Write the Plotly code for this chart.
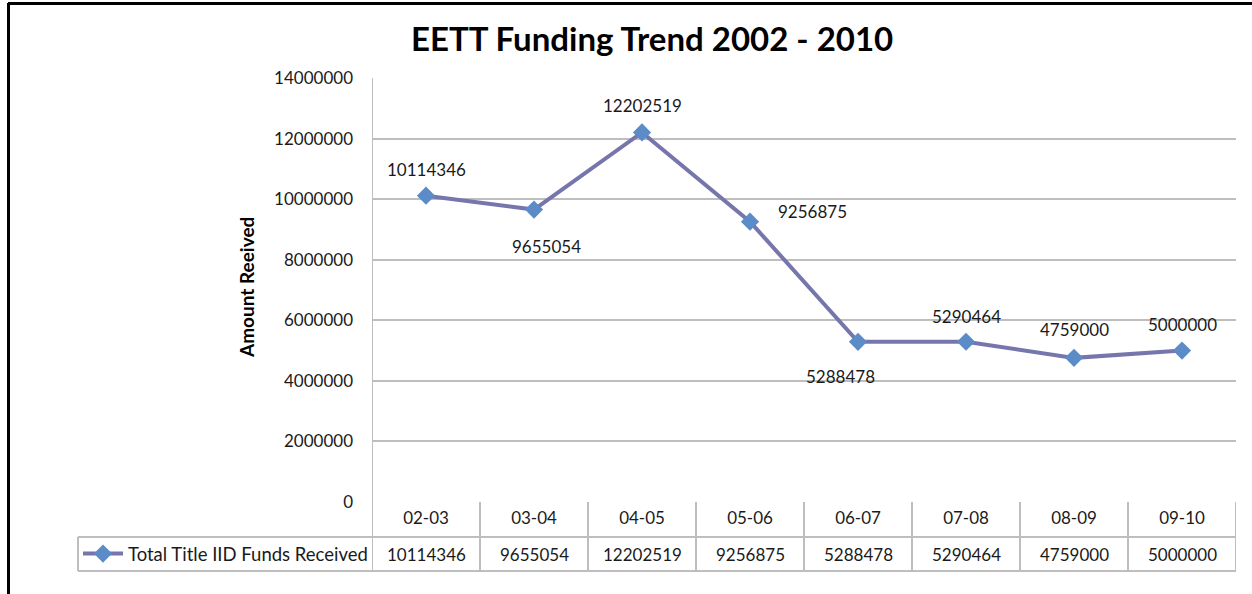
import plotly.graph_objects as go

categories = ["02-03", "03-04", "04-05", "05-06", "06-07", "07-08", "08-09", "09-10"]
funds = [10114346, 9655054, 12202519, 9256875, 5288478, 5290464, 4759000, 5000000]
series_name = "Total Title IID Funds Received"
title_text = "EETT Funding Trend 2002 - 2010"
y_title = "Amount Reeived"
y_ticks = [0, 2000000, 4000000, 6000000, 8000000, 10000000, 12000000, 14000000]

# label offsets (px) for data labels
label_offsets = [(0, 26), (12, -37), (0, 27), (62, 10), (-18, -35), (0, 25), (0, 28), (0, 26)]

W, H = 1252, 594
ML, MR, MT, MB = 372, 16, 78, 92
pw = W - ML - MR
ph = H - MT - MB

def px_x(x):
    return (x - ML) / pw

def px_y(y):
    return (H - MB - y) / ph

FONT = "Lato"
TXT = "#1a1a1a"
GRID = "#BEBEBE"

fig = go.Figure()
fig.add_trace(go.Scatter(
    x=categories, y=funds, mode="lines+markers", name=series_name,
    line=dict(color="#7676AC", width=4),
    marker=dict(symbol="diamond", size=14, color="#5B8CC8",
                line=dict(color="#5B8CC8", width=0)),
    showlegend=True,
))

annotations = []
for c, v, (dx, dy) in zip(categories, funds, label_offsets):
    annotations.append(dict(x=c, y=v, xref="x", yref="y", text=str(v), showarrow=False,
                            xshift=dx, yshift=dy, font=dict(family=FONT, size=17, color=TXT)))

row_mid = px_y(554)
for c, v in zip(categories, funds):
    annotations.append(dict(x=c, y=row_mid, xref="x", yref="paper", text=str(v), showarrow=False,
                            yanchor="middle", font=dict(family=FONT, size=17, color=TXT)))

annotations.append(dict(x=px_x(652), y=px_y(38), xref="paper", yref="paper", text="<b>" + title_text + "</b>",
                        showarrow=False, xanchor="center", yanchor="middle",
                        font=dict(family=FONT, size=33, color="#000000")))
annotations.append(dict(x=px_x(246), y=px_y(288), xref="paper", yref="paper", text="<b>" + y_title + "</b>",
                        showarrow=False, textangle=-90, xanchor="center", yanchor="middle",
                        font=dict(family=FONT, size=19, color="#000000")))

shapes = []
n = len(categories)
y_bot = px_y(571)
y_mid = px_y(537)
lw = 2
for i in range(n + 1):
    shapes.append(dict(type="line", xref="x", yref="paper", x0=i - 0.5, x1=i - 0.5,
                       y0=y_bot, y1=(1 if i == 0 else 0), line=dict(color=GRID, width=lw)))
shapes.append(dict(type="line", xref="paper", yref="paper", x0=px_x(78), x1=1,
                   y0=y_mid, y1=y_mid, line=dict(color=GRID, width=lw)))
shapes.append(dict(type="line", xref="paper", yref="paper", x0=px_x(78), x1=1,
                   y0=y_bot, y1=y_bot, line=dict(color=GRID, width=lw)))
shapes.append(dict(type="line", xref="paper", yref="paper", x0=px_x(78), x1=px_x(78),
                   y0=y_bot, y1=y_mid, line=dict(color=GRID, width=lw)))
# outer frame (top and left)
shapes.append(dict(type="line", xref="paper", yref="paper", x0=px_x(8), x1=px_x(1260),
                   y0=px_y(3.5), y1=px_y(3.5), line=dict(color="#000000", width=3)))
shapes.append(dict(type="line", xref="paper", yref="paper", x0=px_x(8.5), x1=px_x(8.5),
                   y0=px_y(3), y1=px_y(600), line=dict(color="#000000", width=3)))

fig.update_layout(
    width=W, height=H,
    margin=dict(l=ML, r=MR, t=MT, b=MB, pad=0),
    paper_bgcolor="white", plot_bgcolor="white",
    font=dict(family=FONT, size=17, color=TXT),
    xaxis=dict(type="category", range=[-0.5, n - 0.5], showgrid=False, showline=False,
               zeroline=False, ticks="", tickfont=dict(family=FONT, size=17, color=TXT),
               ticklabelstandoff=4),
    yaxis=dict(range=[0, 14000000], tickvals=y_ticks, ticktext=[str(t) for t in y_ticks],
               showgrid=True, gridcolor=GRID, gridwidth=2, zeroline=False,
               showline=False, ticks="", ticklabelstandoff=18,
               tickfont=dict(family=FONT, size=17, color=TXT)),
    showlegend=True,
    legend=dict(x=px_x(78), y=px_y(554), xanchor="left", yanchor="middle",
                bgcolor="rgba(0,0,0,0)", borderwidth=0, itemwidth=40,
                font=dict(family=FONT, size=18.5, color=TXT)),
    annotations=annotations,
    shapes=shapes,
)

fig.write_html("out.html", config={"displayModeBar": False},
               post_script="document.body.style.margin='0px';")
